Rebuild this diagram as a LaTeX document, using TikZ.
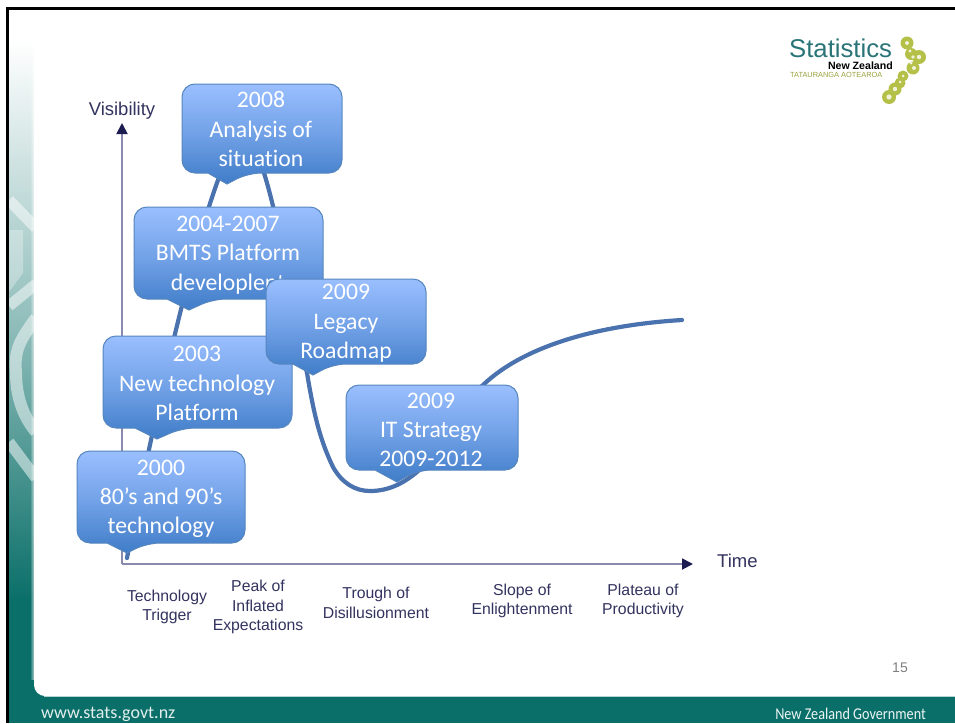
\documentclass[tikz,border=0pt]{standalone}
\usepackage{graphicx}
\usepackage{fontspec}
\setmainfont{Liberation Sans}
\newfontfamily\calloutfont[Ligatures=NoCommon]{Carlito}
\usetikzlibrary{arrows.meta,fadings}
\definecolor{axisline}{HTML}{8A8AAE}
\definecolor{axishead}{HTML}{1C1C50}
\definecolor{labelink}{HTML}{33335F}
\definecolor{curveblue}{HTML}{4A72AE}
\definecolor{boxtop}{HTML}{9ABFFF}
\definecolor{boxbot}{HTML}{3F7CC8}
\definecolor{boxedge}{HTML}{5686BE}
\definecolor{bandteal}{HTML}{0B6F69}
\definecolor{logoteal}{HTML}{2A7478}
\definecolor{logoolive}{HTML}{B4C048}
\tikzset{
  x=1pt,y=-1pt,
  calloutbox/.style={draw=boxedge,line width=1pt,top color=boxtop,bottom color=boxbot,middle color=boxtop!55!boxbot},
  callouttext/.style={text=white,align=center,font=\calloutfont\fontsize{23.7}{29.3}\selectfont,inner sep=0pt},
  axisarrow/.style={draw=axisline,line width=1.8pt,-{Triangle[length=11pt,width=11pt,color=axishead]}},
  axislabel/.style={text=labelink,font=\fontsize{18.5}{22}\selectfont,inner sep=0pt},
  phaselabel/.style={text=labelink,align=center,font=\fontsize{15.8}{19.5}\selectfont,inner sep=0pt},
  ringline/.style={draw=white,opacity=.5,line width=11pt},
}
\newcommand{\calloutshape}[8]{%
  \path[calloutbox] (#5,#4) [rounded corners=13pt] -- (#1,#4) -- (#1,#2) -- (#3,#2) -- (#3,#4) -- (#8,#4) [sharp corners] -- (#6,#7) -- cycle;}
\begin{document}
\begin{tikzpicture}
\useasboundingbox (0,0) rectangle (955,723);
\fill[white] (0,0) rectangle (955,723);
% left decorative strip
\begin{scope}
\clip (9,9) rectangle (40,723);
\shade[top color=white,bottom color=bandteal,middle color=bandteal!45!white] (9,40) rectangle (40,600);
\fill[bandteal] (9,598) rectangle (40,723);
\fill[white,opacity=.3] (9,230) -- (23,230) -- (23,273) -- (9,292) -- cycle;
\draw[ringline] (9,200) -- (36,228);
\draw[ringline] (9,306) -- (36,284);
\draw[ringline,line width=12pt] (36,318) .. controls (20,340) and (14,350) .. (16,372) .. controls (16,395) and (22,415) .. (36,432);
\draw[ringline] (9,442) -- (36,478);
\end{scope}
\fill[white,path fading=west] (30,9) rectangle (36,680);
% footer band and white panel
\fill[bandteal] (30,680) rectangle (50,697);
\fill[bandteal] (9,696) rectangle (955,723);
\fill[white] (34,9) -- (955,9) -- (955,696) [rounded corners=11pt] -- (34,696) -- (34,9) -- cycle;
\draw[white!70!bandteal,line width=.8pt] (44,696.5) -- (955,696.5);
% frame
\fill[black] (6,7) rectangle (955,10);
\fill[black] (6,7) rectangle (9,723);
% logo
\node[inner sep=0pt,anchor=base west,text=logoteal,font=\fontsize{25.7}{28}\selectfont] (logostat) at (789,57) {Statistics};
\node[inner sep=0pt,text=black,font=\bfseries\fontsize{10.6}{12}\selectfont,anchor=east] (logonz) at (893,66) {New Zealand};
\node[inner sep=0pt,text=logoolive!85!black,font=\fontsize{7.4}{9}\selectfont,anchor=west] (logomaori) at (790,75) {TATAURANGA AOTEAROA};
\fill[logoolive] (907,43) circle[radius=6.5pt] (911,54) circle[radius=6pt] (919,57) circle[radius=7pt] (913,68) circle[radius=6.5pt]
  (903,76) circle[radius=5.5pt] (900,83) circle[radius=5.5pt] (895,89) circle[radius=6.5pt] (889,97) circle[radius=7pt];
\fill[white!80!logoolive] (907,43) circle[radius=2pt] (910,51) circle[radius=1.6pt] (913,57) circle[radius=1.8pt] (919,57) circle[radius=2.2pt] (911,63) circle[radius=1.6pt] (914,68) circle[radius=2pt]
  (903,76) circle[radius=1.5pt] (900,82) circle[radius=1.5pt] (895,89) circle[radius=2.2pt] (889,97) circle[radius=2.6pt];
% axes
\coordinate (origin) at (122,564);
\coordinate (ytip) at (122,123);
\coordinate (xtip) at (693,564);
\draw[axisarrow] (origin) -- (ytip);
\draw[axisarrow] (origin) -- (xtip);
\node[axislabel] (vis) at (122,111) {Visibility};
\node[axislabel,anchor=west] (time) at (717,561) {Time};
% hype curve
\draw[curveblue,line width=4.2pt,line cap=round] (127,558) .. controls (140,490) and (165,370) .. (186,290) .. controls (200,235) and (225,140) .. (243,140) .. controls (258,140) and (268,185) .. (280,235) .. controls (292,290) and (300,345) .. (307,373) .. controls (314,415) and (320,440) .. (333,467) .. controls (342,483) and (355,491) .. (370,491) .. controls (390,491) and (405,482) .. (417,472) .. controls (440,452) and (460,405) .. (483,385) .. controls (525,345) and (600,325) .. (682,320);
% callouts
\calloutshape{182}{84}{342}{173}{208}{227}{184}{248}
\node[callouttext] (c2008) at (261,129) {2008\\Analysis of\\situation};
\calloutshape{134}{207}{323}{299}{167}{189}{310}{213}
\node[callouttext] (c2004) at (228,255) {2004-2007\\BMTS Platform\\developlent};
\calloutshape{103}{336}{292}{428}{135}{157}{439}{182}
\node[callouttext] (c2003) at (197,383.5) {2003\\New technology\\Platform};
\calloutshape{266}{279}{426}{364}{293}{313}{375}{333}
\node[callouttext] (cleg) at (346,323.5) {2009\\Legacy\\Roadmap};
\calloutshape{77}{451}{245}{543}{107}{127}{553}{147}
\node[callouttext] (c2000) at (161,499) {2000\\80’s and 90’s\\technology};
\calloutshape{346}{385}{518}{470}{375}{397}{482}{418}
\node[callouttext] (cit) at (431,430) {2009\\IT Strategy\\2009-2012};
% phase labels
\node[phaselabel] (p1) at (167,607) {Technology\\Trigger};
\node[phaselabel] (p2) at (258,607) {Peak of\\Inflated\\Expectations};
\node[phaselabel] (p3) at (376,603) {Trough of\\Disillusionment};
\node[phaselabel] (p4) at (522,601) {Slope of\\Enlightenment};
\node[phaselabel] (p5) at (643,601) {Plateau of\\Productivity};
% page number and footer
\node[inner sep=0pt,text=black!50,font=\fontsize{14}{16}\selectfont] (page) at (900,668) {15};
\node[inner sep=0pt,anchor=west,text=white!88!bandteal,font=\calloutfont\fontsize{18}{20}\selectfont] (web) at (41,714) {www.stats.govt.nz};
\node[inner sep=0pt,anchor=east,text=white!92!bandteal,font=\calloutfont\fontsize{16.5}{18}\selectfont] (gov) at (926,714) {\scalebox{.86}[1]{New Zealand Government}};
\end{tikzpicture}
\end{document}
